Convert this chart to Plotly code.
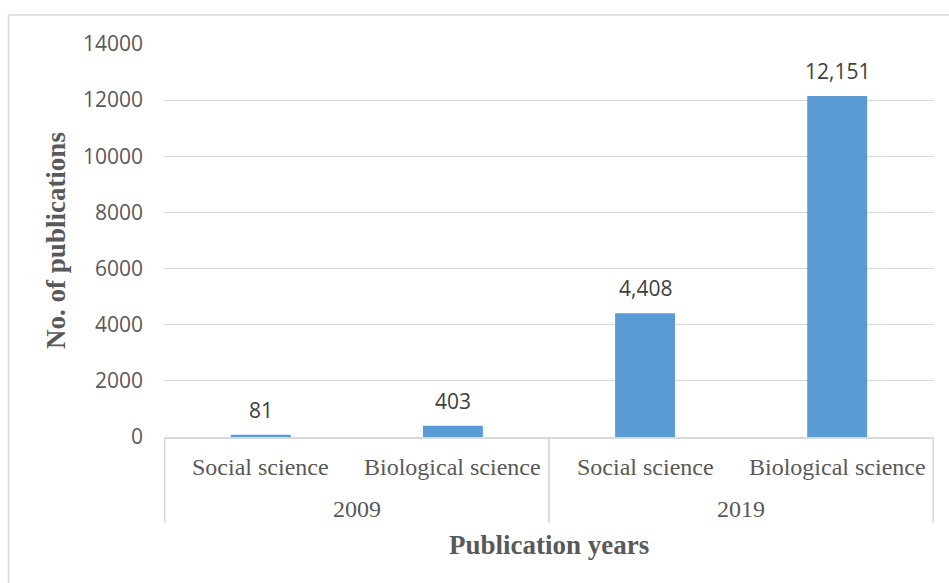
import plotly.graph_objects as go

# Publication counts by year and field
years = ["2009", "2009", "2019", "2019"]
fields = ["Social science", "Biological science", "Social science", "Biological science"]
publications = [81, 403, 4408, 12151]
y_ticks = [0, 2000, 4000, 6000, 8000, 10000, 12000, 14000]

BAR_COLOR = "#5B9BD5"
GRID = "#D9D9D9"
LABEL = "#595959"
SERIF = "Liberation Serif, Times New Roman, serif"
SANS = "Open Sans, Calibri, sans-serif"

fig = go.Figure()
fig.add_trace(go.Bar(
    x=[years, fields],
    y=publications,
    marker=dict(color=BAR_COLOR, line=dict(width=0)),
    hoverinfo="skip",
))

# Value labels above each bar
for i, v in enumerate(publications):
    fig.add_annotation(
        xref="x", yref="y", x=i, y=v,
        text=f"{v:,}", showarrow=False,
        yanchor="middle", yshift=25,
        font=dict(family=SANS, size=21, color="#404040"),
    )

# Two-level category labels under the axis
for i, fd in enumerate(fields):
    fig.add_annotation(
        xref="x", yref="paper", x=i, y=0,
        text=fd, showarrow=False,
        yanchor="middle", yshift=-30,
        font=dict(family=SERIF, size=24, color=LABEL),
    )

groups = []
for yr in years:
    if yr not in groups:
        groups.append(yr)
for yr in groups:
    idx = [i for i, y in enumerate(years) if y == yr]
    fig.add_annotation(
        xref="x", yref="paper", x=sum(idx) / len(idx), y=0,
        text=yr, showarrow=False,
        yanchor="middle", yshift=-72,
        font=dict(family=SERIF, size=24, color=LABEL),
    )
    # group dividers at the edges of each year block
    for edge in (min(idx) - 0.5, max(idx) + 0.5):
        fig.add_shape(
            type="line", xref="x", yref="paper",
            x0=edge, x1=edge,
            ysizemode="pixel", yanchor=0, y0=0, y1=-86,
            line=dict(color=GRID, width=1.5),
        )

# X axis title
fig.add_annotation(
    xref="paper", yref="paper", x=0.5, y=0,
    text="<b>Publication years</b>", showarrow=False,
    yanchor="middle", yshift=-108,
    font=dict(family=SERIF, size=27, color=LABEL),
)

fig.update_layout(
    width=949, height=583,
    margin=dict(l=164, r=15, t=44, b=146),
    paper_bgcolor="white",
    plot_bgcolor="white",
    showlegend=False,
    bargap=0.688,
    xaxis=dict(
        type="multicategory",
        showline=True, linecolor=GRID, linewidth=1.5,
        showgrid=False,
        showticklabels=False,
        showdividers=False,
        ticks="",
    ),
    yaxis=dict(
        range=[0, 14000],
        tickvals=y_ticks,
        ticktext=[str(t) for t in y_ticks],
        showgrid=True, gridcolor=GRID, gridwidth=1.3,
        zeroline=False,
        showline=False,
        ticks="",
        ticklabelstandoff=20,
        tickfont=dict(family=SANS, size=21, color=LABEL),
        title=dict(text="<b>No. of publications</b>",
                   font=dict(family=SERIF, size=27, color=LABEL),
                   standoff=9),
    ),
)

# Chart frame
fig.add_shape(
    type="rect", xref="paper", yref="paper",
    x0=(8.5 - 164) / 770, x1=1.05,
    y0=-0.5, y1=(437 - 15) / 393,
    line=dict(color=GRID, width=1.5),
    fillcolor="rgba(0,0,0,0)",
    layer="below",
)

fig.write_html("out.html")
